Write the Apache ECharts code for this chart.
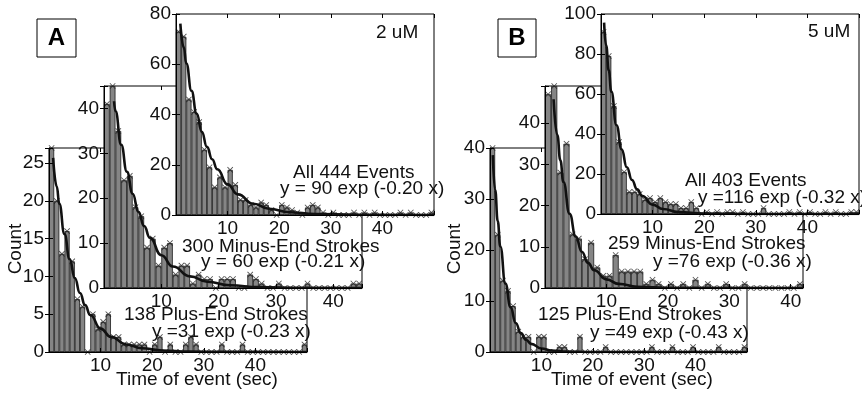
<!DOCTYPE html>
<html><head><meta charset="utf-8">
<script src="https://cdn.jsdelivr.net/npm/echarts@6/dist/echarts.min.js"></script>
<style>html,body{margin:0;padding:0;background:#fff}#c{width:862px;height:395px}</style>
</head><body><div id="c"></div>
<script>
// ---- data (counts per 1-s bin) ----
const plusA  = [27,20,13,16,12,7,6,0,5,3, 4,5,2,2,1,1,1,1,1,0, 1,2,0,1,0,0,1,2,1,0, 0,0,0,1,0,0,0,1,0,0, 0,0,0,0,0,0,0,0,0,1];
const minusA = [41,45,35,24,25,18,16,9,11,5, 9,10,3,5,5,1,3,2,2,0, 2,2,2,0,0,3,2,1,0,0, 1,0,0,0,0,1,0,0,0,0, 0,0,0,1,1];
const allA   = [73,71,46,41,37,26,19,11,15,11, 18,12,6,6,4,3,5,4,2,0, 4,3,2,1,0,3,4,3,1,0, 1,0,0,0,1,0,1,0,1,0, 0,0,0,1,0,1,0,0,0,1];
const plusB  = [40,23,14,12,9,4,3,3,0,3, 3,0,0,1,1,0,0,3,0,0, 0,0,1,0,0,0,0,0,0,0, 0,1,0,0,0,1,0,0,0,1, 0,0,0,0,1,0,0,0,0,1];
const minusB = [47,49,28,35,13,12,7,11,5,3, 3,8,4,4,4,4,1,2,1,0, 1,0,1,0,2,0,1,0,0,1, 0,0,1,0,0,0,0,0,0,0, 0,1];
const allB   = [91,79,54,36,21,11,11,10,7,8, 6,8,6,5,5,3,3,6,3,0, 1,0,1,0,1,1,0,1,0,0, 0,3,0,0,0,0,1,0,1,0, 1,0,0,1,0,1,0,0,1,1];

// fitted exponential curves, [time, count] points
const fitPlusA  = [[0.8,25.7],[1.5,21.9],[2,19.6],[3,15.6],[4,12.3],[5,9.8],[6,7.8],[7,6.2],[8,4.9],[10,3.1],[12,2.0],[15,1.0],[18,0.5],[22,0.2],[27,0.06],[35,0.01],[50,0]];
const fitMinusA = [[1.75,41.6],[2,39.4],[3,31.9],[4,25.9],[5,21.0],[6,17.0],[7,13.8],[8,11.2],[10,7.3],[12,4.8],[15,2.6],[18,1.4],[22,0.6],[27,0.2],[35,0.04],[45,0]];
const fitAllA   = [[0.84,76.2],[1.5,66.7],[2,60.3],[3,49.4],[4,40.4],[5,33.1],[6,27.1],[7,22.2],[8,18.2],[10,12.2],[12,8.2],[15,4.5],[18,2.5],[22,1.1],[27,0.4],[35,0.1],[50,0]];
const fitPlusB  = [[0.55,38.6],[1,31.8],[1.5,25.7],[2,20.7],[3,13.4],[4,8.8],[5,5.7],[6,3.7],[7,2.4],[8,1.6],[10,0.7],[12,0.3],[15,0.08],[20,0.01],[50,0]];
const fitMinusB = [[1.4,45.8],[2,37.1],[2.5,31.0],[3,25.7],[4,18.0],[5,12.5],[6,8.8],[7,6.1],[8,4.3],[10,2.1],[12,1.0],[15,0.3],[20,0.06],[42,0]];
const fitAllB   = [[0.6,95.7],[1,84.2],[1.5,71.8],[2,61.2],[3,44.4],[4,32.3],[5,23.4],[6,17.0],[7,12.3],[8,9.0],[10,4.7],[12,2.5],[15,0.95],[20,0.2],[30,0.01],[50,0]];

const xTickLabels = ['10','20','30','40'];

// ---- layout ----
const FONT = '"Liberation Sans", Arial, Helvetica, sans-serif';
const FS = 19;
const X_PATH = 'path://M0,1L1,0L5,4L9,0L10,1L6,5L10,9L9,10L5,6L1,10L0,9L4,5Z';

const plots = [
  {data: plusA,  fit: fitPlusA,  box:[49,148,258,204],  ymax:27,  yint:5,  level:0},
  {data: minusA, fit: fitMinusA, box:[104,86,258,202],  ymax:45,  yint:10, level:1},
  {data: allA,   fit: fitAllA,   box:[176,14,258,201],  ymax:80,  yint:20, level:2},
  {data: plusB,  fit: fitPlusB,  box:[490,148,257,204], ymax:40,  yint:10, level:0},
  {data: minusB, fit: fitMinusB, box:[545,86,258,202],  ymax:49,  yint:10, level:1},
  {data: allB,   fit: fitAllB,   box:[601,14,258,200],  ymax:100, yint:20, level:2}
];

const grid = [], xAxis = [], yAxis = [], series = [];
plots.forEach((p, i) => {
  const base = 10 * (p.level + 1);
  const N = p.data.length;
  grid.push({left:p.box[0], top:p.box[1], width:p.box[2], height:p.box[3], show:true,
    backgroundColor:'#fff', borderColor:'#000', borderWidth:1, z:base});
  const tickStyle = {show:true, inside:true, length:4, lineStyle:{color:'#000', width:1}};
  xAxis.push({type:'category', gridIndex:i, position:'bottom', show:false, boundaryGap:true,
    data: p.data.map((_, k) => k)});
  xAxis.push({type:'value', gridIndex:i, position:'bottom', min:0, max:N, interval:10, z:base+4,
    axisLine:{show:true, lineStyle:{color:'#000', width:1}}, axisTick:tickStyle, splitLine:{show:false},
    axisLabel:{margin:4, fontSize:FS, fontFamily:FONT, color:'#111', showMinLabel:true, showMaxLabel:true,
      formatter: v => xTickLabels.includes(String(v)) ? String(v) : ''}});
  xAxis.push({type:'value', gridIndex:i, position:'top', min:0, max:N, interval:10, z:base+4,
    axisLine:{show:false}, axisTick:tickStyle, axisLabel:{show:false}, splitLine:{show:false}});
  yAxis.push({type:'value', gridIndex:i, position:'left', min:0, max:p.ymax, interval:p.yint, z:base+4,
    axisLine:{show:true, lineStyle:{color:'#000', width:1}}, axisTick:tickStyle, splitLine:{show:false},
    axisLabel:{margin:5, fontSize:FS, fontFamily:FONT, color:'#111',
      formatter: v => (v % p.yint === 0) ? String(v) : ''}});
  yAxis.push({type:'value', gridIndex:i, position:'right', min:0, max:p.ymax, interval:p.yint, z:base+4,
    axisLine:{show:false}, axisTick:tickStyle, axisLabel:{show:false}, splitLine:{show:false}});
  series.push({type:'bar', xAxisIndex:3*i, yAxisIndex:2*i, data:p.data, barWidth:'100%', barCategoryGap:'0%',
    itemStyle:{color:'#858585', borderColor:'#1a1a1a', borderWidth:0.8}, z:base+1, silent:true});
  series.push({type:'scatter', xAxisIndex:3*i, yAxisIndex:2*i, data:p.data, symbol:X_PATH, symbolSize:6,
    itemStyle:{color:'#222'}, z:base+2, silent:true});
  series.push({type:'line', xAxisIndex:3*i+1, yAxisIndex:2*i, data:p.fit, showSymbol:false, smooth:true,
    smoothMonotone:'x', lineStyle:{color:'#111', width:2.6}, z:base+3, silent:true});
});

function txt(s, x, y, opts) {
  return Object.assign({type:'text', x:x, y:y, z:200, silent:true,
    style:Object.assign({text:s, fontSize:FS, fontFamily:FONT, fill:'#111',
      textAlign:'left', textVerticalAlign:'middle', align:'left', verticalAlign:'middle'}, (opts && opts.style) || {})},
    (opts && opts.el) || {});
}
const C = {textAlign:'center', align:'center'};

const graphic = [
  {type:'rect', z:200, shape:{x:37, y:19, width:39, height:38}, style:{fill:'#fff', stroke:'#000', lineWidth:1}},
  txt('A', 56.5, 38.5, {style:Object.assign({fontSize:24, fontWeight:'bold', fill:'#000'}, C)}),
  {type:'rect', z:200, shape:{x:498, y:19, width:38, height:38}, style:{fill:'#fff', stroke:'#000', lineWidth:1}},
  txt('B', 517, 38.5, {style:Object.assign({fontSize:24, fontWeight:'bold', fill:'#000'}, C)}),
  txt('2 uM', 376, 33),
  txt('5 uM', 808, 32),
  txt('All 444 Events', 293, 173),
  txt('y = 90 exp (-0.20 x)', 280, 189),
  txt('300 Minus-End Strokes', 182, 247),
  txt('y = 60 exp (-0.21 x)', 201, 262),
  txt('138 Plus-End Strokes', 124, 315),
  txt('y =31 exp (-0.23 x)', 152, 332),
  txt('All 403 Events', 685, 181),
  txt('y =116 exp (-0.32 x)', 698, 198),
  txt('259 Minus-End Strokes', 608, 244),
  txt('y =76 exp (-0.36 x)', 653, 262),
  txt('125 Plus-End Strokes', 538, 315),
  txt('y =49 exp (-0.43 x)', 590, 333),
  txt('Count', 16, 249, {style:C, el:{rotation:Math.PI/2}}),
  txt('Count', 455, 249, {style:C, el:{rotation:Math.PI/2}}),
  txt('Time of event (sec)', 197, 380, {style:C}),
  txt('Time of event (sec)', 632, 380, {style:C})
];

const chart = echarts.init(document.getElementById('c'), null, {renderer:'canvas'});
chart.setOption({animation:false, backgroundColor:'#fff', grid, xAxis, yAxis, series, graphic});
</script></body></html>
